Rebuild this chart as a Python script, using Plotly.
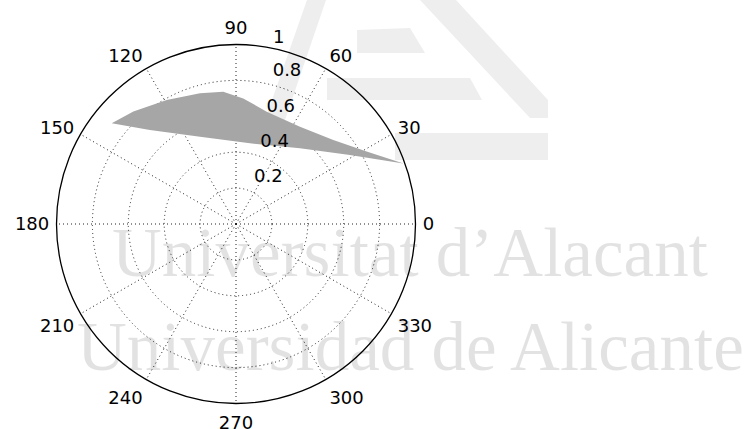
import plotly.graph_objects as go

# Boundary of the filled region (angle in degrees, radius)
theta_upper = [141.0, 132.4, 119.2, 105.4, 95.5, 86.7, 74.7, 56.7, 40.8, 29.0, 19.9]
r_upper = [0.891, 0.848, 0.791, 0.755, 0.740, 0.701, 0.649, 0.649, 0.716, 0.832, 0.992]
theta_lower = [31.2, 49.8, 80.2, 112.4, 132.5]
r_lower = [0.742, 0.552, 0.456, 0.526, 0.710]

# Axis ticks
angle_ticks = [0, 30, 60, 90, 120, 150, 180, 210, 240, 270, 300, 330]
angle_labels = [str(a) for a in angle_ticks]
radial_ticks = [0.2, 0.4, 0.6, 0.8, 1.0]
radial_labels = ["0.2", "0.4", "0.6", "0.8", "1"]
radial_label_angle = 80

W, H = 746, 429
cx, cy, R = 236, 224, 179.5

theta_poly = theta_upper + theta_lower + theta_upper[:1]
r_poly = r_upper + r_lower + r_upper[:1]

fig = go.Figure()

fig.add_trace(go.Scatterpolar(
    theta=theta_poly, r=r_poly, mode="lines", fill="toself",
    fillcolor="#a6a6a6", line=dict(width=0, color="#a6a6a6"),
    hoverinfo="skip", showlegend=False,
))

# radial tick labels, written along a fixed angle just outside each ring
fig.add_trace(go.Scatterpolar(
    theta=[radial_label_angle] * len(radial_ticks),
    r=[min(v + 0.01, 1.0) for v in radial_ticks],
    mode="text", text=["\u00a0\u00a0" + s for s in radial_labels[:-1]] + ["\u00a0" + radial_labels[-1]],
    textposition="top right",
    textfont=dict(family="DejaVu Sans", size=18, color="black"),
    cliponaxis=False, hoverinfo="skip", showlegend=False,
))


def px(x, y):
    return x / W, 1 - y / H


# faint logo in the background
logo_polys = [
    [(420, 0), (456, 0), (548, 100), (548, 118), (530, 118)],
    [(395, 133), (548, 133), (548, 160), (395, 160)],
    [(327, 78), (470, 78), (482, 100), (327, 100)],
    [(357, 30), (410, 28), (425, 53), (357, 53)],
    [(307, 0), (326, 0), (285, 120), (265, 120)],
]
shapes = []
for poly in logo_polys:
    pts = [px(x, y) for x, y in poly]
    path = "M " + " L ".join(f"{a:.4f},{b:.4f}" for a, b in pts) + " Z"
    shapes.append(dict(type="path", path=path, xref="paper", yref="paper",
                       fillcolor="#eeeeee", line=dict(width=0), layer="below"))

wm_font = dict(family="Liberation Serif", size=69, color="rgba(0,0,0,0.115)")
annotations = [
    dict(text="Universitat d’Alacant", x=110 / W, y=1 - 253 / H, xref="paper", yref="paper",
         xanchor="left", yanchor="middle", showarrow=False, font=wm_font),
    dict(text="Universidad de Alicante", x=75 / W, y=1 - 347 / H, xref="paper", yref="paper",
         xanchor="left", yanchor="middle", showarrow=False, font=wm_font),
]

fig.update_layout(
    width=W, height=H,
    margin=dict(l=0, r=0, t=0, b=0),
    paper_bgcolor="white",
    shapes=shapes,
    annotations=annotations,
    polar=dict(
        domain=dict(x=[(cx - R) / W, (cx + R) / W], y=[1 - (cy + R) / H, 1 - (cy - R) / H]),
        bgcolor="rgba(0,0,0,0)",
        radialaxis=dict(range=[0, 1], tickvals=radial_ticks[:-1], showticklabels=False,
                        ticks="", showline=False, gridcolor="#222222", griddash="1px,3px",
                        gridwidth=1),
        angularaxis=dict(tickvals=angle_ticks, ticktext=angle_labels,
                         direction="counterclockwise", rotation=0,
                         showline=True, linecolor="black", linewidth=1.3,
                         gridcolor="#222222", griddash="1px,3px", gridwidth=1,
                         ticks="outside", ticklen=3, tickcolor="rgba(0,0,0,0)",
                         tickfont=dict(family="DejaVu Sans", size=18, color="black")),
    ),
)

fig.write_html("out.html")
